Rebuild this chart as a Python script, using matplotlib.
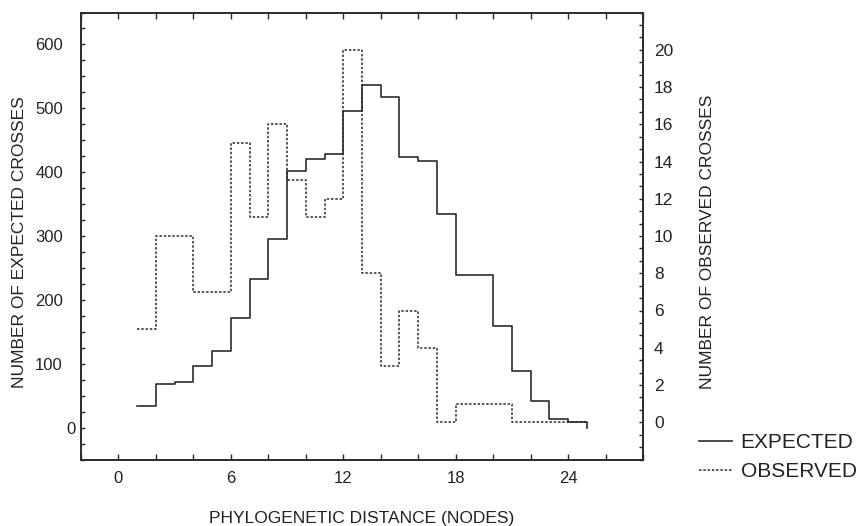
import numpy as np
import matplotlib.pyplot as plt
from matplotlib.ticker import MultipleLocator, FixedLocator
from matplotlib.transforms import ScaledTranslation

plt.rcParams['font.family'] = ['Liberation Sans', 'DejaVu Sans']

# bin left edges (phylogenetic distance, nodes); last entry closes the final step
distance = list(range(1, 26))
expected = [33, 69, 71, 97, 120, 171, 233, 295, 402, 420, 428, 496,
            537, 517, 423, 418, 335, 239, 239, 159, 89, 41, 14, 9, 0]
observed = [5, 10, 10, 7, 7, 15, 11, 16, 13, 11, 12, 20,
            8, 3, 6, 4, 0, 1, 1, 1, 0, 0, 0, 0, 0]
left_ticks = [0, 100, 200, 300, 400, 500, 600]
right_ticks = [0, 2, 4, 6, 8, 10, 12, 14, 16, 18, 20]

ink = '#2b2b2b'
txt = '#222222'

fig = plt.figure(figsize=(8.6, 5.26), dpi=100)
ax = fig.add_axes([81 / 860, 1 - 459.5 / 526, (643 - 81) / 860, (459.5 - 12.5) / 526])
ax2 = ax.twinx()

l1, = ax.plot(distance, expected, drawstyle='steps-post', color=ink, lw=1.2)
l2, = ax2.plot(distance, observed, drawstyle='steps-post', color=ink, lw=1.1,
               linestyle=(0, (1.6, 1.2)))

ax.set_xlim(-2, 28)
ax.set_ylim(-50, 650)
ax2.set_ylim(-2, 22)

ax.xaxis.set_major_locator(MultipleLocator(6))
ax.xaxis.set_minor_locator(MultipleLocator(2))
ax.yaxis.set_major_locator(FixedLocator(left_ticks))
ax.yaxis.set_minor_locator(MultipleLocator(25))
ax2.yaxis.set_major_locator(FixedLocator(right_ticks))
ax2.yaxis.set_minor_locator(MultipleLocator(2 / 3))

for a in (ax, ax2):
    for s in a.spines.values():
        s.set_linewidth(1.2)
        s.set_color(ink)
ax.tick_params(axis='x', which='both', direction='in', top=True, labelsize=12,
               pad=8, color=ink, width=1.0, length=4)
ax.tick_params(axis='y', which='both', direction='in', labelsize=12, pad=13,
               color=ink, width=1.0, length=3)
ax2.tick_params(axis='y', which='both', direction='in', labelsize=12.5, pad=8,
                color=ink, width=1.0, length=3)
for lab in ax.get_xticklabels() + ax.get_yticklabels() + ax2.get_yticklabels():
    lab.set_color(txt)

# the zero label on the left axis sits closer to the spine in the original
fig.canvas.draw()
for lab in ax.get_yticklabels():
    if lab.get_text() in ('0', '−0'):
        lab.set_transform(lab.get_transform() + ScaledTranslation(13 / 100, 0, fig.dpi_scale_trans))

fig.text(20 / 860, 1 - 242 / 526, 'NUMBER OF EXPECTED CROSSES', rotation=90,
         ha='center', va='center', fontsize=12.5, color=txt)
fig.text(707 / 860, 1 - 242 / 526, 'NUMBER OF OBSERVED CROSSES', rotation=90,
         ha='center', va='center', fontsize=12.5, color=txt)
fig.text(362 / 860, 1 - 518 / 526, 'PHYLOGENETIC DISTANCE (NODES)',
         ha='center', va='center', fontsize=12.5, color=txt)

fig.legend([l1, l2], ['EXPECTED', 'OBSERVED'], loc='upper left',
           bbox_to_anchor=(699 / 860, 1 - 433 / 526), frameon=False,
           fontsize=15, handlelength=1.6, handletextpad=0.4, labelspacing=0.48,
           borderpad=0, borderaxespad=0, labelcolor=txt)

fig.savefig('out.png', dpi=100)
